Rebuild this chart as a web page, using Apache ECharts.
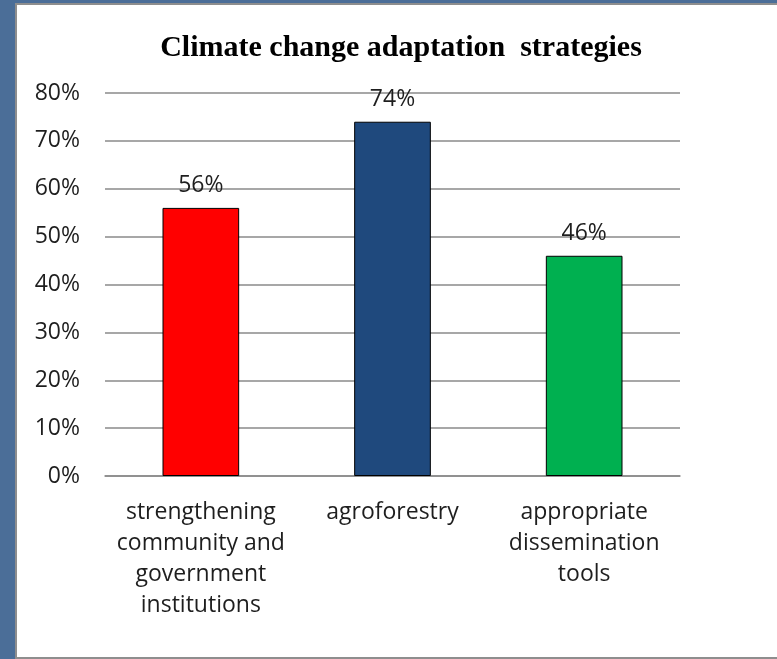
<!DOCTYPE html>
<html>
<head>
<meta charset="utf-8">
<script src="https://cdn.jsdelivr.net/npm/echarts@6/dist/echarts.min.js"></script>
<style>
  html, body { margin: 0; padding: 0; width: 777px; height: 659px; overflow: hidden;
    background: #4b6e98; }
  #panel { position: absolute; left: 15px; top: 3px; width: 770px; height: 652px;
    background: #ffffff; border: 2px solid #8e8e8e; box-sizing: content-box; }
  #chart { position: absolute; left: 0; top: 0; width: 777px; height: 659px; }
</style>
</head>
<body>
<div id="panel"></div>
<div id="chart"></div>
<script>
const titleText = 'Climate change adaptation  strategies';
const categories = [
  'strengthening\ncommunity and\ngovernment\ninstitutions',
  'agroforestry',
  'appropriate\ndissemination\ntools'
];
const values = [56, 74, 46];
const barColors = ['#ff0000', '#1f497d', '#00b050'];
const yTicks = [0, 10, 20, 30, 40, 50, 60, 70, 80];

const chart = echarts.init(document.getElementById('chart'));
chart.setOption({
  backgroundColor: 'transparent',
  animation: false,
  title: {
    text: titleText,
    left: 396, top: 28, textAlign: 'center',
    textStyle: { fontFamily: 'Liberation Serif', fontWeight: 'bold', fontSize: 30, color: '#000' }
  },
  grid: { left: 105, right: 97, top: 93, bottom: 183 },
  xAxis: {
    type: 'category',
    data: categories,
    axisLine: { lineStyle: { color: '#8a8a8a', width: 1.5 } },
    axisTick: { show: false },
    axisLabel: {
      interval: 0, margin: 21, color: '#1e1e1e',
      fontFamily: 'Open Sans', fontSize: 23, lineHeight: 31
    }
  },
  yAxis: {
    type: 'value', min: yTicks[0], max: yTicks[yTicks.length - 1], interval: 10,
    axisLine: { show: false }, axisTick: { show: false },
    splitLine: { lineStyle: { color: '#8a8a8a', width: 1.5 } },
    axisLabel: {
      margin: 25, color: '#1e1e1e', fontFamily: 'Open Sans', fontSize: 23,
      formatter: v => v + '%'
    }
  },
  series: [{
    type: 'bar',
    barWidth: '40%',
    data: values.map((v, i) => ({
      value: v,
      itemStyle: { color: barColors[i], borderColor: '#000', borderWidth: 1 }
    })),
    label: {
      show: true, position: 'top', distance: 11, color: '#1e1e1e',
      fontFamily: 'Open Sans', fontSize: 23,
      formatter: p => p.value + '%'
    }
  }]
});
</script>
</body>
</html>
